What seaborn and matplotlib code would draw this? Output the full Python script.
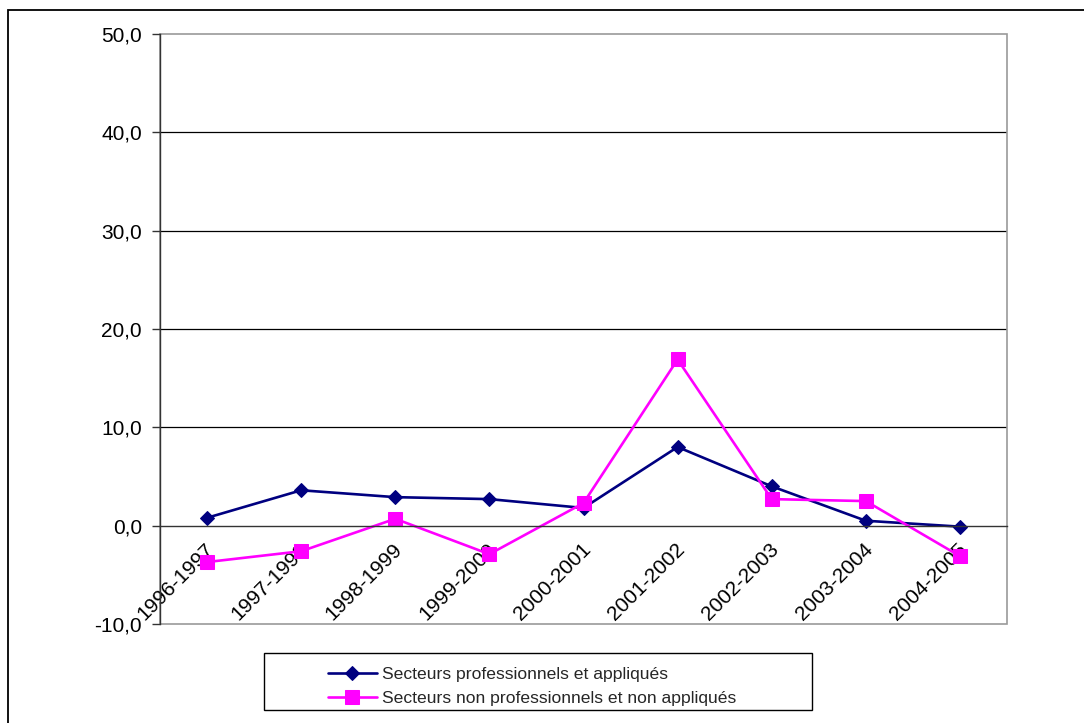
import matplotlib
matplotlib.use("Agg")
import matplotlib.pyplot as plt
import matplotlib.patches as mpatches
from matplotlib.ticker import FixedLocator, FuncFormatter
import seaborn as sns
import pandas as pd

# Academic years
years = ["1996-1997", "1997-1998", "1998-1999", "1999-2000", "2000-2001",
         "2001-2002", "2002-2003", "2003-2004", "2004-2005"]

# Annual variation (%) per group of sectors
pro_appliques = [0.8, 3.6, 2.9, 2.7, 1.8, 8.0, 4.0, 0.5, -0.1]
non_pro_appliques = [-3.7, -2.6, 0.7, -2.9, 2.3, 16.9, 2.7, 2.5, -3.1]

series_names = ["Secteurs professionnels et appliqués",
                "Secteurs non professionnels et non appliqués"]
y_ticks = [-10, 0, 10, 20, 30, 40, 50]

df = pd.DataFrame({
    "pos": list(range(len(years))) * 2,
    "valeur": pro_appliques + non_pro_appliques,
    "serie": [series_names[0]] * len(years) + [series_names[1]] * len(years),
})

sns.set_theme(style="white")
plt.rcParams["font.family"] = ["Liberation Sans", "DejaVu Sans"]

W, H = 1084, 723
fig = plt.figure(figsize=(W / 100, H / 100), dpi=100)
ax = fig.add_axes([160 / W, 1 - 624 / H, (1007 - 160) / W, (624 - 34) / H])

palette = {series_names[0]: "#000080", series_names[1]: "#FF00FF"}
markers = {series_names[0]: "D", series_names[1]: "s"}
sizes = {series_names[0]: 7.5, series_names[1]: 9.5}

for name in series_names:
    sub = df[df["serie"] == name]
    sns.lineplot(data=sub, x="pos", y="valeur", ax=ax, color=palette[name],
                 marker=markers[name], markersize=sizes[name],
                 markeredgecolor=palette[name], linewidth=1.9,
                 sort=False, label=name, legend=False)

ax.set_xlim(-0.5, len(years) - 0.5)
ax.set_ylim(-10, 50)
ax.set_xlabel("")
ax.set_ylabel("")

# horizontal gridlines
for v in y_ticks[2:-1]:
    ax.axhline(v, color="#000000", linewidth=0.9, zorder=0)

# plot-area border
for s in ["top", "right"]:
    ax.spines[s].set_visible(False)
border = mpatches.Rectangle((0, 0), 1, 1, transform=ax.transAxes, fill=False,
                            edgecolor="#9a9a9a", linewidth=1.2, clip_on=False, zorder=0)
ax.add_patch(border)

# category axis crossing at zero
ax.spines["bottom"].set_position(("data", 0))
ax.spines["bottom"].set_color("#333333")
ax.spines["bottom"].set_linewidth(1.0)
ax.spines["left"].set_color("#333333")
ax.spines["left"].set_linewidth(1.0)

ax.xaxis.set_major_locator(FixedLocator(list(range(len(years)))))
ax.set_xticklabels(years)
ax.xaxis.set_minor_locator(FixedLocator([i - 0.5 for i in range(len(years) + 1)]))
ax.tick_params(axis="x", which="major", length=0, pad=15, labelsize=15, colors="#000000")
ax.tick_params(axis="x", which="minor", length=7, width=1.0, color="#333333", direction="out")
for lab in ax.get_xticklabels():
    lab.set_rotation(45)
    lab.set_ha("right")
    lab.set_va("center")
    lab.set_rotation_mode("anchor")
    lab.set_x(lab.get_position()[0])
offset = matplotlib.transforms.ScaledTranslation(4 / 100, 0, fig.dpi_scale_trans)
for lab in ax.get_xticklabels():
    lab.set_transform(lab.get_transform() + offset)

ax.yaxis.set_major_locator(FixedLocator(y_ticks))
ax.yaxis.set_major_formatter(FuncFormatter(lambda v, p: f"{v:.1f}".replace(".", ",")))
ax.tick_params(axis="y", length=6, width=1.0, color="#333333", direction="out",
               labelsize=15, pad=7, left=True, colors="#000000")

# outer frame
fig.add_artist(mpatches.Rectangle((8 / W, -0.5), 2.0, 1.5 - 10 / H,
                                  transform=fig.transFigure, fill=False,
                                  edgecolor="#000000", linewidth=1.3, clip_on=False))

# legend box
fig.add_artist(mpatches.Rectangle((264 / W, 1 - 710 / H), (812 - 264) / W, (710 - 653) / H,
                                  transform=fig.transFigure, fill=False,
                                  edgecolor="#000000", linewidth=1.0))
handles, labels = ax.get_legend_handles_labels()
fig.legend(handles, labels, loc="center", bbox_to_anchor=(532 / W, 1 - 686 / H),
           frameon=False, fontsize=12.6, handlelength=2.8, handletextpad=0.3,
           labelspacing=0.5, borderpad=0)

fig.savefig("out.png", dpi=100, facecolor="white")
